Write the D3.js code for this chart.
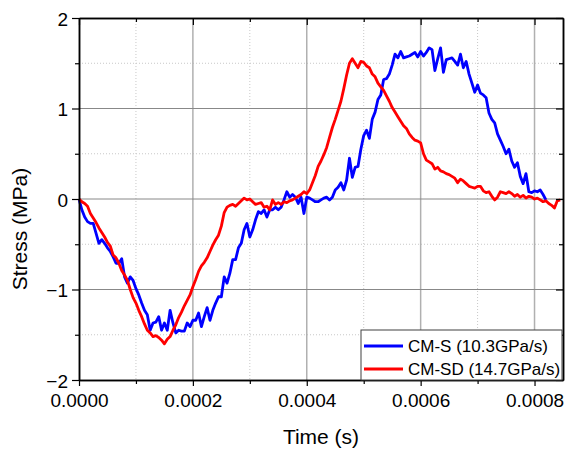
<!DOCTYPE html>
<html>
<head>
<meta charset="utf-8">
<script src="https://cdn.jsdelivr.net/npm/d3@7"></script>
<style>
  html, body { margin: 0; padding: 0; background: #fff; }
  svg { display: block; }
</style>
</head>
<body>
<svg id="chart" width="567" height="451"></svg>
<script>
// sample spacing of both records (s)
const timeStep = 5e-6;

// CM-S (10.3GPa/s), stress in MPa
const cmS = [
  0, -0.12, -0.2, -0.25, -0.27, -0.27, -0.38, -0.49, -0.45, -0.49,
  -0.54, -0.58, -0.64, -0.71, -0.71, -0.66, -0.86, -0.93, -0.86, -0.9,
  -0.99, -1.06, -1.15, -1.23, -1.28, -1.45, -1.37, -1.36, -1.3, -1.45,
  -1.37, -1.45, -1.23, -1.37, -1.48, -1.45, -1.46, -1.46, -1.37, -1.41,
  -1.34, -1.34, -1.26, -1.41, -1.3, -1.2, -1.34, -1.23, -1.15, -1.08,
  -1.08, -0.86, -0.93, -0.82, -0.67, -0.67, -0.54, -0.49, -0.34, -0.27,
  -0.42, -0.34, -0.23, -0.14, -0.16, -0.12, -0.2, -0.12, -0.12, -0.09,
  -0.12, -0.09, -0.01, 0.08, 0.02, 0.05, 0.02, -0.05, 0.02, -0.16,
  0.02, 0.01, -0.01, -0.03, -0.03, -0.01, 0.01, 0.02, -0.01, 0.02,
  0.1, 0.13, 0.18, 0.1, 0.21, 0.45, 0.24, 0.35, 0.36, 0.55,
  0.7, 0.76, 0.67, 0.88, 0.96, 1.1, 1.15, 1.32, 1.33, 1.38,
  1.48, 1.6, 1.56, 1.63, 1.56, 1.57, 1.58, 1.6, 1.62, 1.57,
  1.63, 1.58, 1.62, 1.67, 1.65, 1.42, 1.55, 1.67, 1.4, 1.54,
  1.55, 1.56, 1.52, 1.48, 1.6, 1.45, 1.52, 1.38, 1.28, 1.18,
  1.26, 1.17, 1.15, 1.12, 0.95, 0.88, 0.84, 0.72, 0.65, 0.58,
  0.5, 0.55, 0.42, 0.35, 0.4, 0.25, 0.17, 0.28, 0.08, 0.07,
  0.09, 0.08, 0.1, 0.05, -0.01
];

// CM-SD (14.7GPa/s), stress in MPa
const cmSD = [
  0, -0.03, -0.05, -0.08, -0.16, -0.21, -0.26, -0.32, -0.37, -0.42,
  -0.48, -0.52, -0.62, -0.65, -0.71, -0.79, -0.84, -0.9, -1.0, -1.09,
  -1.15, -1.23, -1.3, -1.38, -1.45, -1.48, -1.52, -1.51, -1.53, -1.56,
  -1.6, -1.55, -1.52, -1.45, -1.39, -1.31, -1.25, -1.18, -1.12, -1.06,
  -0.97, -0.89, -0.8, -0.74, -0.7, -0.65, -0.58, -0.51, -0.45, -0.4,
  -0.3, -0.15, -0.09, -0.07, -0.06, -0.08, -0.05, -0.02, 0.01, -0.01,
  0, -0.03, -0.06, -0.05, -0.04, -0.09, -0.08, -0.12, -0.01, -0.06,
  -0.04, -0.06, -0.03, -0.04, -0.02, -0.01, 0.01, 0.03, 0.05, 0.08,
  0.06, 0.1, 0.18, 0.26, 0.36, 0.42, 0.49, 0.57, 0.68, 0.79,
  0.88, 0.98, 1.08, 1.22, 1.37, 1.5, 1.55, 1.5, 1.45, 1.52,
  1.51, 1.47, 1.45, 1.38, 1.35, 1.28, 1.24, 1.2, 1.14, 1.08,
  1.01, 0.96, 0.91, 0.86, 0.81, 0.78, 0.72, 0.68, 0.65, 0.64,
  0.62, 0.5, 0.43, 0.41, 0.39, 0.33, 0.35, 0.31, 0.3, 0.28,
  0.27, 0.25, 0.23, 0.18, 0.22, 0.2, 0.17, 0.14, 0.13, 0.12,
  0.14, 0.14, 0.09, 0.07, 0.08, 0.03, -0.01, 0.02, 0.08, 0.07,
  0.06, 0.08, 0.06, 0.03, 0.05, 0.02, 0.04, 0.01, 0.03, 0.02,
  0, 0.01, -0.01, -0.03, -0.02, -0.05, -0.07, -0.1, -0.02, -0.01
];

const seriesNames = ["CM-S (10.3GPa/s)", "CM-SD (14.7GPa/s)"];
const seriesColors = ["#0000ff", "#ff0000"];
const xMajorTicks = [0, 0.0002, 0.0004, 0.0006, 0.0008];
const xMinorTicks = [0.0001, 0.0003, 0.0005, 0.0007];
const yMajorTicks = [-2, -1, 0, 1, 2];
const yMinorTicks = [-1.5, -0.5, 0.5, 1.5];

const FONT = "'Liberation Sans', Arial, sans-serif";

const svg = d3.select("#chart");
const width = 567, height = 451;
const margin = { top: 18, right: 4, bottom: 71, left: 79 };
const innerWidth = width - margin.left - margin.right;
const innerHeight = height - margin.top - margin.bottom;

const g = svg.append("g")
  .attr("transform", `translate(${margin.left},${margin.top})`);

const x = d3.scaleLinear().domain([0, 0.00085]).range([0, innerWidth]);
const y = d3.scaleLinear().domain([-2, 2]).range([innerHeight, 0]);

// Minor grid (dotted)
g.selectAll("line.vminor")
  .data(xMinorTicks)
  .join("line")
  .attr("x1", d => x(d)).attr("x2", d => x(d))
  .attr("y1", 0).attr("y2", innerHeight)
  .attr("stroke", "#c8c8c8")
  .attr("stroke-dasharray", "1 2");

g.selectAll("line.hminor")
  .data(yMinorTicks)
  .join("line")
  .attr("x1", 0).attr("x2", innerWidth)
  .attr("y1", d => y(d)).attr("y2", d => y(d))
  .attr("stroke", "#c8c8c8")
  .attr("stroke-dasharray", "1 2");

// Major grid
g.selectAll("line.vmajor")
  .data(xMajorTicks.slice(1))
  .join("line")
  .attr("x1", d => x(d)).attr("x2", d => x(d))
  .attr("y1", 0).attr("y2", innerHeight)
  .attr("stroke", "#b0b0b0")
  .attr("stroke-width", 1.5);

g.selectAll("line.hmajor")
  .data(yMajorTicks.slice(1, -1))
  .join("line")
  .attr("x1", 0).attr("x2", innerWidth)
  .attr("y1", d => y(d)).attr("y2", d => y(d))
  .attr("stroke", "#888")
  .attr("stroke-width", 1);

// Curves
const line = d3.line()
  .x((d, i) => x(i * timeStep))
  .y(d => y(d));

[cmS, cmSD].forEach((values, k) => {
  g.append("path")
    .datum(values)
    .attr("fill", "none")
    .attr("stroke", seriesColors[k])
    .attr("stroke-width", 2.8)
    .attr("stroke-linejoin", "round")
    .attr("d", line);
});

// Axes: bottom/left ticks outward, top/right ticks inward
function styleAxis(sel) {
  sel.select(".domain").attr("stroke", "#000").attr("stroke-width", 1.5);
  sel.selectAll(".tick line").attr("stroke", "#000").attr("stroke-width", 1.2);
  sel.selectAll(".tick text")
    .attr("fill", "#000")
    .attr("font-family", FONT)
    .attr("font-size", 19);
}

// tick-only axes: drop the labels
function bare(sel) {
  styleAxis(sel);
  sel.selectAll(".tick text").remove();
}

const fmtX = d3.format(".4f");
const fmtY = d3.format("d");

g.append("g")
  .attr("transform", `translate(0,${innerHeight})`)
  .call(d3.axisBottom(x).tickValues(xMinorTicks).tickSize(4).tickSizeOuter(0))
  .call(bare);
g.append("g")
  .attr("transform", `translate(0,${innerHeight})`)
  .call(d3.axisBottom(x).tickValues(xMajorTicks).tickSize(6).tickFormat(fmtX).tickSizeOuter(0))
  .call(styleAxis)
  .call(a => a.selectAll(".tick text").attr("dy", null).attr("y", 27));

g.append("g")
  .call(d3.axisLeft(y).tickValues(yMinorTicks).tickSize(4).tickSizeOuter(0))
  .call(bare);
g.append("g")
  .call(d3.axisLeft(y).tickValues(yMajorTicks).tickSize(7).tickPadding(4).tickFormat(fmtY).tickSizeOuter(0))
  .call(styleAxis)
  .call(a => a.selectAll(".tick text").attr("dy", null).attr("y", 7));

g.append("g")
  .call(d3.axisTop(x).tickValues(xMinorTicks).tickSize(-4).tickSizeOuter(0))
  .call(bare);
g.append("g")
  .call(d3.axisTop(x).tickValues(xMajorTicks).tickSize(-7).tickSizeOuter(0))
  .call(bare);

g.append("g")
  .attr("transform", `translate(${innerWidth},0)`)
  .call(d3.axisRight(y).tickValues(yMinorTicks).tickSize(-4).tickSizeOuter(0))
  .call(bare);
g.append("g")
  .attr("transform", `translate(${innerWidth},0)`)
  .call(d3.axisRight(y).tickValues(yMajorTicks).tickSize(-7).tickSizeOuter(0))
  .call(bare);

// Axis titles
g.append("text")
  .attr("x", innerWidth / 2)
  .attr("y", innerHeight + 64)
  .attr("text-anchor", "middle")
  .attr("font-family", FONT)
  .attr("font-size", 21)
  .attr("fill", "#000")
  .text("Time (s)");

g.append("text")
  .attr("transform", `translate(-52,${innerHeight / 2 + 30}) rotate(-90)`)
  .attr("text-anchor", "middle")
  .attr("font-family", FONT)
  .attr("font-size", 21)
  .attr("fill", "#000")
  .text("Stress (MPa)");

// Legend
const legend = g.append("g")
  .attr("transform", `translate(${innerWidth - 202},${innerHeight - 50})`);

legend.append("rect")
  .attr("width", 201).attr("height", 50)
  .attr("fill", "#fff")
  .attr("stroke", "#404040")
  .attr("stroke-width", 1);

seriesNames.forEach((name, k) => {
  const ly = 16 + k * 23;
  legend.append("line")
    .attr("x1", 3).attr("x2", 42)
    .attr("y1", ly).attr("y2", ly)
    .attr("stroke", seriesColors[k])
    .attr("stroke-width", 2.8);
  legend.append("text")
    .attr("x", 47)
    .attr("y", ly + 6)
    .attr("font-family", FONT)
    .attr("font-size", 17)
    .attr("fill", "#000")
    .text(name);
});
</script>
</body>
</html>
